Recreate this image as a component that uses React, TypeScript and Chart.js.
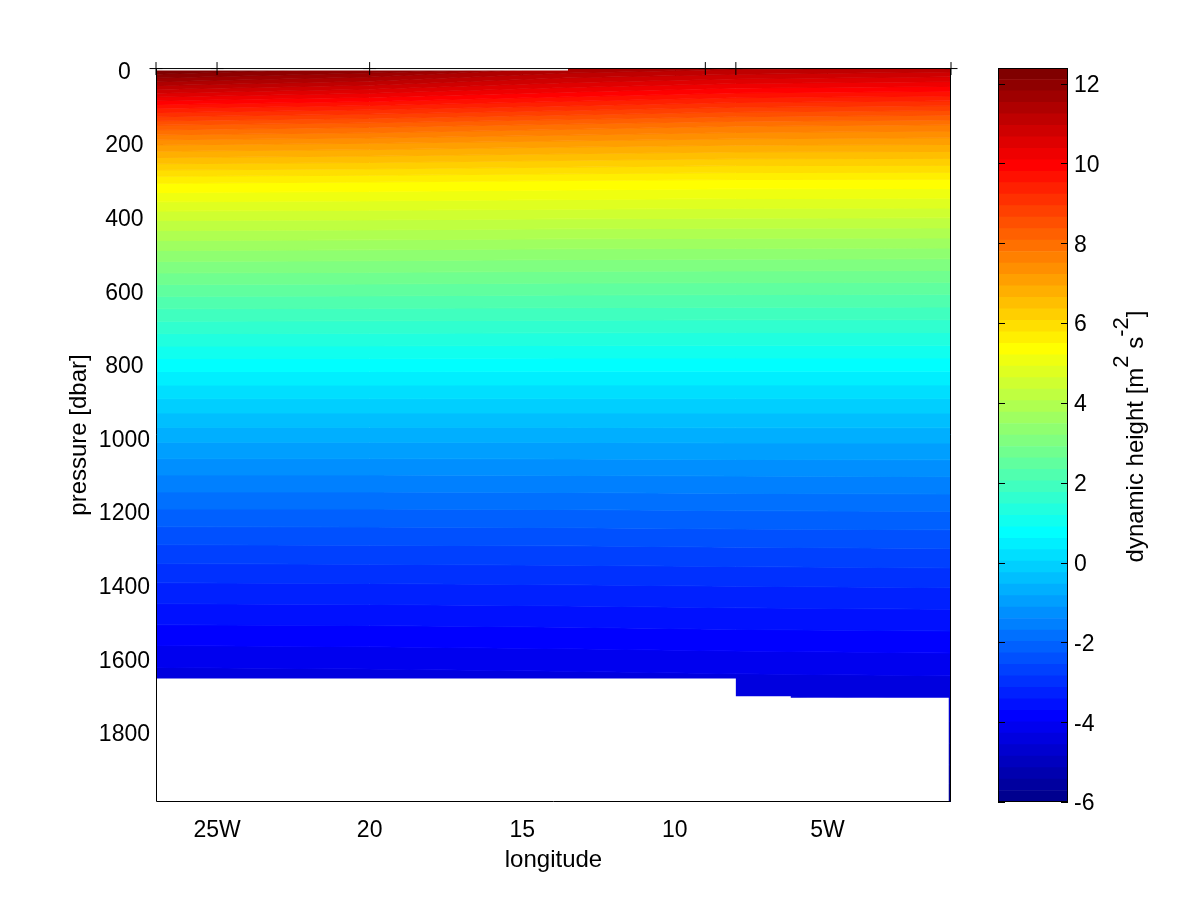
import React, { useEffect, useRef } from 'react';
import { Chart, registerables } from 'chart.js';

Chart.register(...registerables);

// ---------------- data ----------------
// station longitudes (degrees, negative = W)
const stationLon = [-27.0, -20.0, -13.5, -8.0, -0.95];
// pressure grid of the profiles (dbar)
const pressureGrid = [-6.5, 0, 50, 100, 150, 200, 250, 300, 400, 500, 600, 700, 800, 900, 1000, 1100, 1200, 1300, 1400, 1500, 1600, 1700, 1800, 1900, 1987.5];
// dynamic height profiles (m^2 s^-2) read from the section
const dh27W = [12.39, 12.39, 11.0, 9.6, 8.33, 7.26, 6.42, 5.57, 4.43, 3.37, 2.45, 1.6, 0.75, -0.03, -0.76, -1.41, -2.03, -2.62, -3.17, -3.67, -4.18, -4.62];
const dh20W = [12.05, 12.0, 10.7, 9.4, 8.18, 7.18, 6.36, 5.53, 4.41, 3.35, 2.44, 1.59, 0.75, -0.03, -0.76, -1.41, -2.03, -2.61, -3.16, -3.66, -4.16, -4.6];
const dh13W = [11.5, 11.4, 10.3, 9.15, 7.98, 7.06, 6.27, 5.48, 4.38, 3.32, 2.42, 1.58, 0.74, -0.03, -0.76, -1.4, -2.02, -2.6, -3.14, -3.64, -4.13, -4.58];
const dh8W = [11.3, 11.2, 10.05, 8.95, 7.82, 6.98, 6.2, 5.44, 4.36, 3.31, 2.41, 1.57, 0.74, -0.03, -0.75, -1.39, -2.0, -2.58, -3.12, -3.61, -4.1, -4.55];
const dh1W = [11.15, 11.05, 9.95, 8.85, 7.74, 6.95, 6.19, 5.43, 4.35, 3.3, 2.4, 1.57, 0.74, -0.03, -0.75, -1.38, -1.99, -2.56, -3.1, -3.59, -4.07, -4.53, -5.0, -5.48, -6.0];
const profiles = [dh27W, dh20W, dh13W, dh8W, dh1W];

// no-data regions (white)
const topMaskLon = [-27.0, -13.5, -13.5];
const topMaskP = [0, 0, -6.5];
const bottomMaskLon = [-27.0, -8.0, -8.0, -6.2, -6.2, -1.02, -1.02];
const bottomMaskP = [1652, 1652, 1700, 1700, 1704, 1704, 1987.5];

// station marks along the top
const stationMarkLon = [-27.0, -25.0, -20.0, -9.0, -8.0, -0.95];
const stationMarkPressure = -5;

// axes
const lonRange = [-27.0, -0.95];
const pressureRange = [-6.5, 1987.5];
const lonTicks = [-25, -20, -15, -10, -5];
const lonTickLabels = ['25W', '20', '15', '10', '5W'];
const pressureTicks = [0, 200, 400, 600, 800, 1000, 1200, 1400, 1600, 1800];
const pressureTickLabels = ['0', '200', '400', '600', '800', '1000', '1200', '1400', '1600', '1800'];
const colorRange = [-6, 12.39];
const colorTicks = [-6, -4, -2, 0, 2, 4, 6, 8, 10, 12];
const colorTickLabels = ['-6', '-4', '-2', '0', '2', '4', '6', '8', '10', '12'];
const nColors = 64;

const FONT = "'Liberation Sans', Arial, Helvetica, sans-serif";

// ---------------- helpers ----------------
function jet(i: number): string {
  // MATLAB jet(64), 1-based index
  let r = 0, g = 0, b = 0;
  if (i <= 8) { b = (i + 8) / 16; }
  else if (i <= 24) { g = (i - 8) / 16; b = 1; }
  else if (i <= 40) { r = (i - 24) / 16; g = 1; b = (40 - i) / 16; }
  else if (i <= 56) { r = 1; g = (56 - i) / 16; }
  else { r = (72 - i) / 16; }
  return `rgb(${Math.round(r * 255)},${Math.round(g * 255)},${Math.round(b * 255)})`;
}

function crossingPressure(prof: number[], v: number): number {
  const n = prof.length;
  if (v >= prof[0]) return pressureGrid[0];
  for (let i = 0; i < n - 1; i++) {
    if (prof[i] >= v && v > prof[i + 1]) {
      const t = (prof[i] - v) / (prof[i] - prof[i + 1]);
      return pressureGrid[i] + t * (pressureGrid[i + 1] - pressureGrid[i]);
    }
  }
  return pressureGrid[n - 1];
}

function buildDatasets() {
  const step = (colorRange[1] - colorRange[0]) / nColors;
  const ds: any[] = [];
  ds.push({
    data: stationLon.map((x) => ({ x, y: pressureRange[0] })),
    fill: false, borderWidth: 0, pointRadius: 0, order: 0,
  });
  for (let j = 1; j <= nColors; j++) {
    let pts;
    if (j < nColors) {
      const v = colorRange[0] + (nColors - j) * step;
      pts = stationLon.map((x, s) => ({ x, y: crossingPressure(profiles[s], v) }));
    } else {
      pts = stationLon.map((x) => ({ x, y: pressureRange[1] }));
    }
    const c = jet(nColors - j + 1);
    ds.push({
      data: pts, fill: '-1', backgroundColor: c, borderColor: c,
      borderWidth: j < nColors ? 1 : 0, pointRadius: 0, order: 0,
    });
  }
  ds.push({
    data: topMaskLon.map((x, i) => ({ x, y: topMaskP[i] })),
    fill: { value: pressureRange[0] }, backgroundColor: '#ffffff', borderWidth: 0, pointRadius: 0, order: -1,
  });
  ds.push({
    data: bottomMaskLon.map((x, i) => ({ x, y: bottomMaskP[i] })),
    fill: { value: pressureRange[1] }, backgroundColor: '#ffffff', borderWidth: 0, pointRadius: 0, order: -1,
  });
  ds.push({
    data: stationMarkLon.map((x) => ({ x, y: stationMarkPressure })),
    fill: false, borderColor: '#000', borderWidth: 1, pointStyle: 'cross', pointRadius: 6.5,
    pointBorderColor: '#000', pointBorderWidth: 1, clip: false, order: -2,
  });
  return ds;
}

const crisp = (v: number) => Math.round(v) + 0.5;

const mainAxesPlugin = {
  id: 'mainAxes',
  beforeDatasetsDraw(chart: any) {
    const { ctx, chartArea: a, scales } = chart;
    ctx.save();
    ctx.strokeStyle = '#000';
    ctx.lineWidth = 1;
    ctx.beginPath();
    lonTicks.forEach((v) => {
      const x = crisp(scales.x.getPixelForValue(v));
      ctx.moveTo(x, a.bottom); ctx.lineTo(x, a.bottom - 8);
      ctx.moveTo(x, a.top); ctx.lineTo(x, a.top + 8);
    });
    pressureTicks.forEach((v) => {
      const y = crisp(scales.y.getPixelForValue(v));
      ctx.moveTo(a.left, y); ctx.lineTo(a.left + 7, y);
      ctx.moveTo(a.right, y); ctx.lineTo(a.right - 7, y);
    });
    ctx.stroke();
    ctx.restore();
  },
  afterDatasetsDraw(chart: any) {
    const { ctx, chartArea: a } = chart;
    ctx.save();
    ctx.strokeStyle = '#000';
    ctx.lineWidth = 1;
    ctx.beginPath();
    ctx.moveTo(a.left + 0.5, a.top);
    ctx.lineTo(a.left + 0.5, a.bottom - 0.5);
    ctx.lineTo(a.right - 0.5, a.bottom - 0.5);
    ctx.lineTo(a.right - 0.5, a.top);
    ctx.stroke();
    ctx.restore();
  },
  afterDraw(chart: any) {
    const { ctx, chartArea: a } = chart;
    ctx.save();
    ctx.fillStyle = '#000';
    ctx.font = `24px ${FONT}`;
    ctx.textAlign = 'center';
    ctx.textBaseline = 'alphabetic';
    ctx.fillText('longitude', (a.left + a.right) / 2, 867);
    ctx.translate(86, (a.top + a.bottom) / 2);
    ctx.rotate(-Math.PI / 2);
    ctx.fillText('pressure [dbar]', 0, 0);
    ctx.restore();
  },
};

const colorbarPlugin = {
  id: 'colorbarAxes',
  afterDatasetsDraw(chart: any) {
    const { ctx, chartArea: a, scales } = chart;
    ctx.save();
    ctx.strokeStyle = '#000';
    ctx.lineWidth = 1;
    ctx.strokeRect(a.left + 0.5, a.top + 0.5, a.right - a.left - 1, a.bottom - a.top - 1);
    ctx.beginPath();
    colorTicks.forEach((v) => {
      const y = crisp(scales.y.getPixelForValue(v));
      ctx.moveTo(a.left, y); ctx.lineTo(a.left + 7, y);
      ctx.moveTo(a.right, y); ctx.lineTo(a.right - 7, y);
    });
    ctx.stroke();
    ctx.restore();
  },
  afterDraw(chart: any) {
    const { ctx, chartArea: a } = chart;
    const parts = [
      { t: 'dynamic height [m', sup: false },
      { t: '2', sup: true },
      { t: ' s', sup: false },
      { t: '-2', sup: true },
      { t: ']', sup: false },
    ];
    ctx.save();
    ctx.fillStyle = '#000';
    ctx.textBaseline = 'alphabetic';
    ctx.textAlign = 'left';
    let total = 0;
    parts.forEach((p) => {
      ctx.font = p.sup ? `22px ${FONT}` : `24px ${FONT}`;
      total += ctx.measureText(p.t).width;
    });
    ctx.translate(1143, (a.top + a.bottom) / 2 + 1.5);
    ctx.rotate(-Math.PI / 2);
    let x = -total / 2;
    parts.forEach((p) => {
      ctx.font = p.sup ? `22px ${FONT}` : `24px ${FONT}`;
      ctx.fillText(p.t, x, p.sup ? -15 : 0);
      x += ctx.measureText(p.t).width;
    });
    ctx.restore();
  },
};

export default function App() {
  const mainRef = useRef<HTMLCanvasElement>(null);
  const cbRef = useRef<HTMLCanvasElement>(null);

  useEffect(() => {
    const tickFont = { family: FONT, size: 23 };
    const main = new Chart(mainRef.current as HTMLCanvasElement, {
      type: 'line',
      data: { datasets: buildDatasets() },
      options: {
        animation: false,
        responsive: false,
        events: [],
        layout: { padding: { left: 0, top: 68, right: 249, bottom: 0 } },
        plugins: { legend: { display: false }, tooltip: { enabled: false } },
        elements: { line: { tension: 0 }, point: { radius: 0 } },
        scales: {
          x: {
            type: 'linear', min: lonRange[0], max: lonRange[1],
            grid: { display: false, drawTicks: false }, border: { display: false },
            ticks: {
              font: tickFont, color: '#000', padding: 15, autoSkip: false, maxRotation: 0,
              callback: (_v: any, i: number) => lonTickLabels[i],
            },
            afterBuildTicks: (s: any) => { s.ticks = lonTicks.map((v) => ({ value: v })); },
            afterFit: (s: any) => { s.height = 99; },
          },
          y: {
            type: 'linear', reverse: true, min: pressureRange[0], max: pressureRange[1],
            grid: { display: false, drawTicks: false }, border: { display: false },
            ticks: {
              font: tickFont, color: '#000', padding: 6, autoSkip: false, crossAlign: 'center',
              labelOffset: 2,
              callback: (_v: any, i: number) => pressureTickLabels[i],
            },
            afterBuildTicks: (s: any) => { s.ticks = pressureTicks.map((v) => ({ value: v })); },
            afterFit: (s: any) => { s.width = 156; },
          },
        },
      } as any,
      plugins: [mainAxesPlugin],
    });

    const step = (colorRange[1] - colorRange[0]) / nColors;
    const cbDatasets = [];
    for (let k = 0; k < nColors; k++) {
      cbDatasets.push({
        data: [[colorRange[0] + k * step, colorRange[0] + (k + 1) * step]],
        backgroundColor: jet(k + 1), borderWidth: 0, grouped: false,
        barPercentage: 1, categoryPercentage: 1,
      });
    }
    const cb = new Chart(cbRef.current as HTMLCanvasElement, {
      type: 'bar',
      data: { labels: ['cb'], datasets: cbDatasets as any },
      options: {
        animation: false,
        responsive: false,
        events: [],
        layout: { padding: { left: 998, top: 68, right: 0, bottom: 99 } },
        plugins: { legend: { display: false }, tooltip: { enabled: false } },
        scales: {
          x: { display: false },
          y: {
            position: 'right', min: colorRange[0], max: colorRange[1],
            grid: { display: false, drawTicks: false }, border: { display: false },
            ticks: {
              font: tickFont, color: '#000', padding: 6, autoSkip: false, labelOffset: 2,
              callback: (_v: any, i: number) => colorTickLabels[i],
            },
            afterBuildTicks: (s: any) => { s.ticks = colorTicks.map((v) => ({ value: v })); },
            afterFit: (s: any) => { s.width = 132; },
          },
        },
      } as any,
      plugins: [colorbarPlugin],
    });

    return () => { main.destroy(); cb.destroy(); };
  }, []);

  return (
    <div style={{ position: 'absolute', left: 0, top: 0, width: 1200, height: 901, overflow: 'hidden', background: '#fff' }}>
      <canvas ref={mainRef} width={1200} height={901} style={{ position: 'absolute', left: 0, top: 0 }} />
      <canvas ref={cbRef} width={1200} height={901} style={{ position: 'absolute', left: 0, top: 0, pointerEvents: 'none' }} />
    </div>
  );
}
